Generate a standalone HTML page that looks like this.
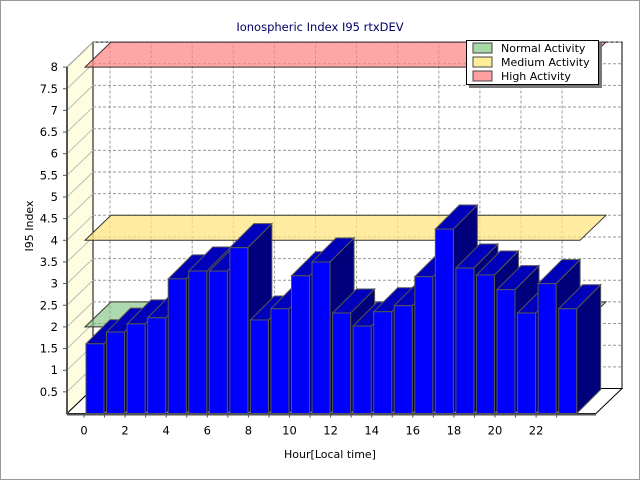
<!DOCTYPE html>
<html><head><meta charset="utf-8"><style>
body{margin:0;background:#fff;}
svg{display:block;font-family:Verdana,"DejaVu Sans",sans-serif;}
</style></head><body>
<svg id="c" width="640" height="480" xmlns="http://www.w3.org/2000/svg">
<rect x="0.5" y="0.5" width="639" height="479" fill="#fff" stroke="#999"/>
<text x="320" y="31" text-anchor="middle" font-size="11.5" fill="#000066">Ionospheric Index I95 rtxDEV</text>
<g id="plot"></g>
<text x="330" y="458" text-anchor="middle" font-size="11" fill="#000">Hour[Local time]</text>
<text transform="translate(33,226) rotate(-90)" text-anchor="middle" font-size="11" fill="#000">I95 Index</text>
<g>
<rect x="469" y="43" width="133" height="45" fill="#777"/>
<rect x="466.5" y="40.5" width="132" height="44" fill="#fff" stroke="#000"/>
<rect x="473" y="43" width="19" height="10" fill="#a8d8a8" stroke="#444"/>
<text x="501" y="52" font-size="11">Normal Activity</text>
<rect x="473" y="57" width="19" height="10" fill="#ffee99" stroke="#444"/>
<text x="501" y="66" font-size="11">Medium Activity</text>
<rect x="473" y="71" width="19" height="10" fill="#ffa0a0" stroke="#444"/>
<text x="501" y="80" font-size="11">High Activity</text>
</g>
</svg>
<script>
const hours = [0,1,2,3,4,5,6,7,8,9,10,11,12,13,14,15,16,17,18,19,20,21,22,23];
const values = [1.61,1.88,2.07,2.21,3.11,3.29,3.29,3.83,2.16,2.42,3.18,3.50,2.32,2.02,2.35,2.49,3.16,4.26,3.36,3.20,2.86,2.32,3.00,2.42];
const yTicks = [0.5,1,1.5,2,2.5,3,3.5,4,4.5,5,5.5,6,6.5,7,7.5,8];
const xTicks = [0,2,4,6,8,10,12,14,16,18,20,22];
const bandLevels = [2,4,8];
const bandNames = ['normal','medium','high'];

const NS='http://www.w3.org/2000/svg';
const g=document.getElementById('plot');
const DX=26, DY=-25;
const yBase=413.5, yUnit=43.3;
const xL=67, xR=596;
function Y(v){return yBase - v*yUnit;}
function X(h){return 86 + h*20.55;}
function mk(tag,attrs){const e=document.createElementNS(NS,tag);for(const k in attrs)e.setAttribute(k,attrs[k]);g.appendChild(e);return e;}
function poly(pts){return pts.map(p=>p.join(',')).join(' ');}

// left wall
let e=mk('polygon',{points:poly([[xL,Y(0)],[xL,Y(8)],[xL+DX,Y(8)+DY],[xL+DX,Y(0)+DY]]),fill:'#fffde0',stroke:'#000'});


// back wall
e=mk('rect',{x:xL+DX,y:Y(8)+DY,width:xR+DX-(xL+DX),height:8*yUnit,fill:'#fff',stroke:'#000'});


// floor
e=mk('polygon',{points:poly([[xL,Y(0)],[xR,Y(0)],[xR+DX,Y(0)+DY],[xL+DX,Y(0)+DY]]),fill:'#fff',stroke:'#000'});


// grid
yTicks.forEach(v=>{
  const y=Y(v);
  let l=mk('line',{x1:xL+DX,y1:y+DY,x2:xR+DX,y2:y+DY,stroke:'#999','stroke-dasharray':'3,2'});
  
  
  l=mk('line',{x1:xL,y1:y,x2:xL+DX,y2:y+DY,stroke:'#bbb'});
  
  
  l=mk('line',{x1:xL-4,y1:y,x2:xL,y2:y,stroke:'#555'});
  
  
  const t=mk('text',{x:xL-9,y:y+4,'text-anchor':'end','font-size':'11.5',fill:'#000'});
  t.textContent=String(v);
  
  
});
xTicks.forEach(h=>{
  const x=X(h)-2;
  let l=mk('line',{x1:x+DX,y1:Y(0)+DY,x2:x+DX,y2:Y(8)+DY,stroke:'#999','stroke-dasharray':'3,2'});
  
  
  const t=mk('text',{x:x,y:Y(0)+21,'text-anchor':'middle','font-size':'11.5',fill:'#000'});
  t.textContent=String(h);
  
  
});
hours.forEach(h=>{
  const l=mk('line',{x1:X(h)-2,y1:Y(0),x2:X(h)-2,y2:Y(0)+4,stroke:'#555'});
  
  
});
// axis lines
e=mk('line',{x1:xL,y1:Y(0),x2:xL,y2:Y(8),stroke:'#555','stroke-width':2});


e=mk('line',{x1:xL,y1:Y(0)+1,x2:xR,y2:Y(0)+1,stroke:'#555','stroke-width':2});


// bands
const bandFill=['rgba(120,190,120,0.6)','rgba(255,230,130,0.75)','rgba(255,130,130,0.7)'];
bandLevels.forEach((v,i)=>{
  const y=Y(v);
  const p=mk('polygon',{points:poly([[85,y],[580,y],[580+DX,y+DY],[85+DX,y+DY]]),fill:bandFill[i],stroke:'#333','stroke-width':1});
  
  
});
// bars
const W=18, BD=24;
hours.forEach((h,i)=>{
  const x=X(h), yt=Y(values[i]), yb=Y(0);
  const grp=document.createElementNS(NS,'g');
  
  
  g.appendChild(grp);
  const side=document.createElementNS(NS,'polygon');
  side.setAttribute('points',poly([[x+W,yb],[x+W,yt],[x+W+BD,yt-BD],[x+W+BD,yb-BD]]));
  side.setAttribute('fill','#00007a');side.setAttribute('stroke','#555');
  
  
  const top=document.createElementNS(NS,'polygon');
  top.setAttribute('points',poly([[x,yt],[x+W,yt],[x+W+BD,yt-BD],[x+BD,yt-BD]]));
  top.setAttribute('fill','#0000bb');top.setAttribute('stroke','#555');
  
  
  const front=document.createElementNS(NS,'rect');
  front.setAttribute('x',x);front.setAttribute('y',yt);front.setAttribute('width',W);front.setAttribute('height',yb-yt);
  front.setAttribute('fill','#0000ff');front.setAttribute('stroke','#555');
  
  
  grp.appendChild(side);grp.appendChild(top);grp.appendChild(front);
});
</script>
</body></html>
